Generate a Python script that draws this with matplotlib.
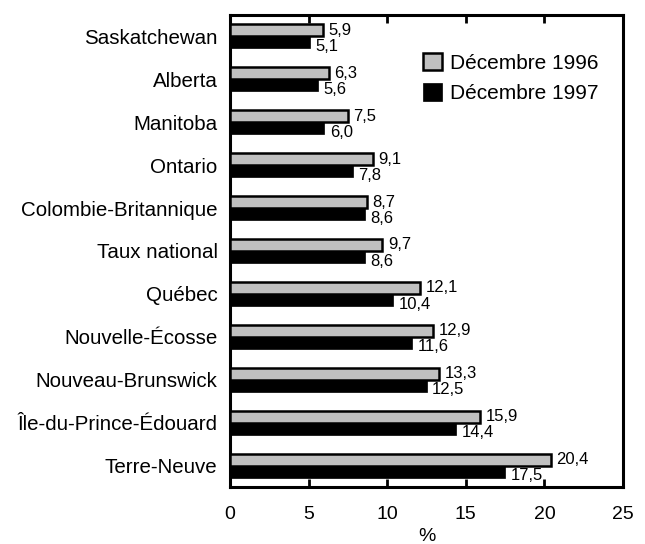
import numpy as np
import matplotlib
matplotlib.use('Agg')
import matplotlib.pyplot as plt

plt.rcParams['font.family'] = ['Liberation Sans', 'DejaVu Sans']

# données
provinces = ['Saskatchewan', 'Alberta', 'Manitoba', 'Ontario', 'Colombie-Britannique',
             'Taux national', 'Québec', 'Nouvelle-Écosse', 'Nouveau-Brunswick',
             'Île-du-Prince-Édouard', 'Terre-Neuve']
dec_1996 = [5.9, 6.3, 7.5, 9.1, 8.7, 9.7, 12.1, 12.9, 13.3, 15.9, 20.4]
dec_1997 = [5.1, 5.6, 6.0, 7.8, 8.6, 8.6, 10.4, 11.6, 12.5, 14.4, 17.5]
xticks = [0, 5, 10, 15, 20, 25]

def fmt(v):
    return ('%.1f' % v).replace('.', ',')

fig = plt.figure(figsize=(6.45, 5.44), dpi=100)
ax = fig.add_axes([230/645, 1-487/544, 393/645, 472/544])

y = np.arange(len(provinces))
h = 0.28
ax.barh(y - h/2, dec_1996, height=h, color='#c0c0c0', edgecolor='black', linewidth=1.8,
        label='Décembre 1996', zorder=3)
ax.barh(y + h/2, dec_1997, height=h, color='black', edgecolor='black', linewidth=0.5,
        label='Décembre 1997', zorder=2)

for i in range(len(provinces)):
    ax.annotate(fmt(dec_1996[i]), (dec_1996[i], y[i] - h/2), xytext=(4, 0),
                textcoords='offset points', ha='left', va='center', fontsize=12)
    ax.annotate(fmt(dec_1997[i]), (dec_1997[i], y[i] + h/2), xytext=(4, -3),
                textcoords='offset points', ha='left', va='center', fontsize=12)

ax.set_xlim(0, 25)
ax.set_ylim(len(provinces) - 0.5, -0.5)
ax.set_xticks(xticks)
ax.set_xticklabels([str(t) for t in xticks], fontsize=14)
ax.set_yticks(y)
ax.set_yticklabels(provinces, fontsize=14.8)
ax.tick_params(axis='x', direction='in', length=6, width=2, top=True, pad=14)
ax.tick_params(axis='y', length=0, pad=9)
for s in ax.spines.values():
    s.set_linewidth(2.2)
ax.set_xlabel('%', fontsize=14, labelpad=3)

leg = ax.legend(loc='upper left', bbox_to_anchor=(423/645, 1-53/544),
                bbox_transform=fig.transFigure, frameon=False, fontsize=15,
                borderpad=0, borderaxespad=0, handlelength=0.9, handleheight=0.9,
                handletextpad=0.4, labelspacing=0.5)

fig.savefig('out.png', dpi=100)
